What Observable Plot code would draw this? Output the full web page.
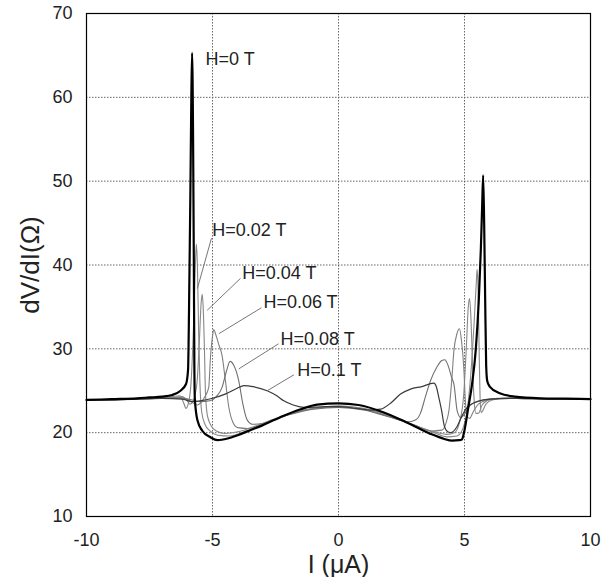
<!DOCTYPE html>
<html><head><meta charset="utf-8">
<script src="https://cdn.jsdelivr.net/npm/d3@7"></script>
<script src="https://cdn.jsdelivr.net/npm/@observablehq/plot@0.6"></script>
<style>body{margin:0;background:#fff;}</style>
</head><body><div id="chart"></div>
<script>
const xTicks = [-10, -5, 0, 5, 10];
const yTicks = [10, 20, 30, 40, 50, 60, 70];

const h0 = [[-10,23.9],[-9,24.0],[-8,24.1],[-7.5,24.2],[-7,24.3],[-6.6,24.5],[-6.27,25.0],[-6.05,25.8],[-5.97,27.5],[-5.93,35],[-5.88,48],[-5.84,60],[-5.81,65.3],[-5.77,55],[-5.74,40],[-5.72,28],[-5.7,24],[-5.6,21.5],[-5.4,20.2],[-5.08,19.45],[-4.8,19.1],[-4.4,19.3],[-4.0,19.7],[-3.5,20.3],[-3.0,20.9],[-2.2,22.0],[-1.5,22.8],[-0.85,23.35],[0,23.5],[0.8,23.3],[1.8,22.4],[2.5,21.5],[3.1,20.65],[3.7,19.8],[4.2,19.25],[4.5,19.05],[4.8,19.1],[4.9,19.2],[5.0,20.3],[5.15,23],[5.3,25.8],[5.45,30],[5.57,36],[5.65,42],[5.7,47],[5.74,50.7],[5.78,45],[5.82,36],[5.86,28],[5.9,26.2],[6.0,25.5],[6.4,24.7],[7.0,24.3],[8,24.1],[9,24.05],[10,24.0]];
const h002 = [[-10,23.85],[-8,24.0],[-7,24.15],[-6.6,24.3],[-6.3,24.4],[-6.15,23.6],[-6.05,22.9],[-5.95,23.6],[-5.85,26],[-5.75,33],[-5.68,40],[-5.64,42.5],[-5.6,40],[-5.55,32],[-5.5,26],[-5.43,22.5],[-5.3,21],[-5.1,20.2],[-4.8,19.7],[-4.3,19.6],[-3.5,20.4],[-2.5,21.6],[-1.5,22.6],[-0.5,23.1],[0,23.2],[1,22.9],[2,22.1],[3,20.9],[3.8,20.0],[4.3,19.5],[4.7,19.6],[4.95,20.6],[5.1,22.5],[5.25,27],[5.38,33],[5.47,38],[5.5,39.5],[5.54,37],[5.58,30],[5.62,24],[5.66,22.4],[5.72,22.6],[5.85,23.4],[6.1,23.9],[6.6,24.1],[7.5,24.05],[10,24.0]];
const h004 = [[-10,23.85],[-8,24.0],[-7,24.1],[-6.5,24.2],[-6.2,24.3],[-6.0,23.8],[-5.9,23.4],[-5.8,23.6],[-5.7,24.4],[-5.6,26.5],[-5.52,31],[-5.45,35.5],[-5.41,36.5],[-5.37,35],[-5.32,30],[-5.28,24.8],[-5.2,22],[-5.05,20.8],[-4.85,20.2],[-4.5,19.9],[-4,20.1],[-3.3,20.8],[-2.5,21.7],[-1.5,22.6],[-0.5,23.0],[0,23.1],[1,22.8],[2,22.0],[3,20.9],[3.8,20.1],[4.3,19.8],[4.6,20.0],[4.8,21.2],[4.97,24.6],[5.07,30],[5.15,35],[5.2,36],[5.25,34],[5.32,28],[5.38,24],[5.45,22.3],[5.55,22.3],[5.7,23.3],[5.9,23.8],[6.3,24.1],[7.5,24.05],[10,24.0]];
const h006 = [[-10,23.85],[-8,24.0],[-7,24.1],[-6.3,24.2],[-6.0,24.0],[-5.8,23.6],[-5.6,23.3],[-5.45,23.6],[-5.3,24.3],[-5.15,25.4],[-5.08,29],[-5.0,31.5],[-4.95,32.3],[-4.88,31.8],[-4.75,30.5],[-4.62,29.2],[-4.5,26.5],[-4.35,23.0],[-4.2,21.3],[-4.0,20.6],[-3.6,20.5],[-3,21.0],[-2,22.2],[-1,22.9],[0,23.1],[1,22.8],[2,21.9],[3,20.9],[3.7,20.2],[4.1,20.3],[4.3,21.5],[4.38,22.6],[4.5,26.5],[4.58,29.8],[4.7,31.8],[4.8,32.4],[4.88,31],[4.97,27.8],[5.04,23.5],[5.1,22.0],[5.2,21.7],[5.35,22.5],[5.55,23.4],[5.9,23.9],[6.5,24.1],[7.5,24.05],[10,24.0]];
const h008 = [[-10,23.85],[-8,24.0],[-7,24.1],[-6.2,24.1],[-5.8,23.9],[-5.5,23.7],[-5.1,23.8],[-4.85,24.3],[-4.62,25.4],[-4.45,27.3],[-4.3,28.5],[-4.15,28.0],[-3.96,26.2],[-3.8,23.5],[-3.62,21.5],[-3.4,21.0],[-3.0,21.1],[-2,22.1],[-1,22.8],[0,23.0],[1,22.7],[2,21.9],[2.8,21.3],[3.05,21.5],[3.25,22.3],[3.45,24.3],[3.65,26.2],[3.9,27.8],[4.1,28.6],[4.22,28.7],[4.35,28.0],[4.5,26.5],[4.58,25.8],[4.71,22.6],[4.85,21.8],[5.0,22.2],[5.2,23.2],[5.5,23.7],[6.0,24.0],[7,24.1],[10,24.0]];
const h01 = [[-10,23.85],[-8,24.0],[-7,24.1],[-6.2,24.0],[-5.8,23.7],[-5.5,23.8],[-5.0,24.1],[-4.5,24.6],[-4.02,25.3],[-3.75,25.6],[-3.4,25.5],[-2.83,25.0],[-2.45,24.4],[-2.17,23.8],[-1.8,23.3],[-1.3,23.0],[-0.5,23.1],[0,23.1],[0.7,22.9],[1.3,22.7],[1.67,22.8],[2.1,23.6],[2.46,24.6],[2.86,25.2],[3.3,25.5],[3.78,25.9],[3.9,25.3],[3.98,24.2],[4.1,22.5],[4.18,21.05],[4.3,20.2],[4.45,20.0],[4.7,20.7],[4.9,22.0],[5.1,23.0],[5.4,23.6],[6.0,24.0],[7,24.1],[10,24.0]];

const fieldLabels = ["H=0 T", "H=0.02 T", "H=0.04 T", "H=0.06 T", "H=0.08 T", "H=0.1 T"];
const labelX = [-5.28, -5.01, -3.82, -2.98, -2.30, -1.64];
const labelY = [64.5, 44.1, 39.05, 35.5, 31.1, 27.4];
// leader lines (for H=0.02 .. H=0.1)
const leadX1 = [-5.04, -3.89, -3.06, -2.38, -1.77];
const leadY1 = [43.2, 38.4, 34.9, 30.6, 26.9];
const leadX2 = [-5.6, -5.21, -4.75, -3.96, -2.83];
const leadY2 = [37.2, 34.6, 31.8, 27.6, 25.0];

const series = [
  {pts: h002, color: "#888888", w: 1.1},
  {pts: h004, color: "#888888", w: 1.1},
  {pts: h006, color: "#808080", w: 1.1},
  {pts: h008, color: "#707070", w: 1.1},
  {pts: h01,  color: "#3a3a3a", w: 1.2},
  {pts: h0,   color: "#000000", w: 2.2}
];

const labels = fieldLabels.map((t, i) => ({t, x: labelX[i], y: labelY[i]}));
const leaders = leadX1.map((v, i) => ({x1: v, y1: leadY1[i], x2: leadX2[i], y2: leadY2[i]}));

const chart = Plot.plot({
  width: 602, height: 577,
  marginLeft: 86, marginRight: 12, marginTop: 13, marginBottom: 61,
  style: {fontFamily: "'Liberation Sans', Arial, sans-serif", fontSize: "18px", background: "#fff", color: "#222"},
  x: {domain: [-10, 10]},
  y: {domain: [10, 70]},
  marks: [
    Plot.gridX(xTicks.slice(1, -1), {stroke: "#555", strokeOpacity: 0.9, strokeWidth: 1, strokeDasharray: "1.5,1.5"}),
    Plot.gridY(yTicks.slice(1, -1), {stroke: "#555", strokeOpacity: 0.9, strokeWidth: 1, strokeDasharray: "1.5,1.5"}),
    Plot.axisX(xTicks, {tickSize: 0, tickPadding: 17, fontSize: 18, label: null, tickFormat: d => String(d)}),
    Plot.axisY(yTicks, {tickSize: 0, tickPadding: 14, fontSize: 18, label: null, tickFormat: d => String(d)}),
    ...series.map(s => Plot.line(s.pts, {x: d => d[0], y: d => d[1], stroke: s.color, strokeWidth: s.w, curve: "monotone-x"})),
    Plot.link(leaders, {x1: "x1", y1: "y1", x2: "x2", y2: "y2", stroke: "#777", strokeWidth: 1}),
    Plot.text(labels, {x: "x", y: "y", text: "t", textAnchor: "start", fontSize: 18, fill: "#222"}),
    Plot.text(["I (\u03bcA)"], {frameAnchor: "bottom", textAnchor: "middle", lineAnchor: "middle", dy: 48, fontSize: 25, fill: "#222"}),
    Plot.text(["dV/dI(\u03a9)"], {frameAnchor: "left", textAnchor: "middle", lineAnchor: "middle", dx: -56, rotate: -90, fontSize: 26, fill: "#222"}),
    Plot.frame({stroke: "#000", strokeWidth: 1.2})
  ]
});
document.getElementById("chart").appendChild(chart);
</script>
</body></html>
